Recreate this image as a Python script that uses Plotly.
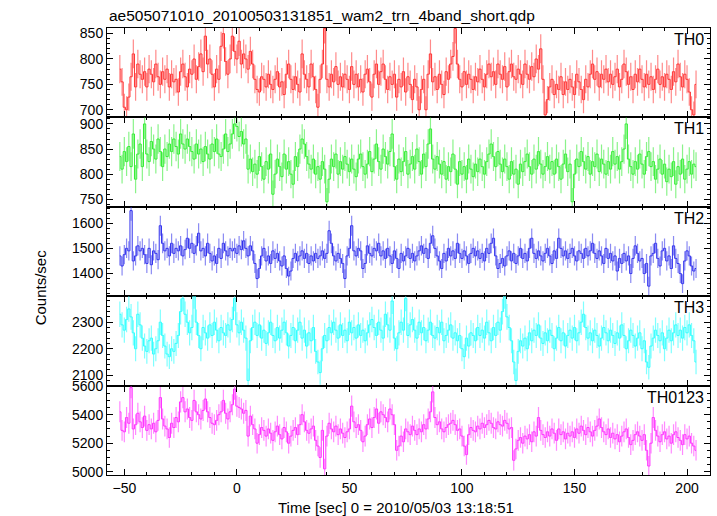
import numpy as np
import plotly.graph_objects as go
from plotly.subplots import make_subplots

time = list(range(-52, 205))

th0 = [
    780, 755, 705, 700, 725, 765, 810, 745, 790, 770,
    760, 775, 745, 780, 770, 755, 790, 765, 750, 775,
    760, 780, 745, 770, 755, 760, 735, 775, 790, 765,
    745, 780, 770, 800, 760, 785, 810, 775, 845, 790,
    800, 770, 745, 780, 760, 825, 850, 795, 770, 800,
    845, 815, 800, 835, 790, 810, 800, 780, 815, 790,
    760, 740, 735, 765, 760, 745, 770, 750, 740, 760,
    775, 745, 755, 730, 770, 790, 760, 740, 765, 750,
    735, 810, 770, 760, 745, 790, 765, 740, 705, 760,
    790, 860, 760, 745, 770, 755, 785, 750, 765, 745,
    770, 760, 740, 785, 750, 770, 745, 760, 735, 770,
    780, 755, 725, 770, 790, 750, 775, 790, 760, 740,
    765, 750, 770, 725, 760, 745, 775, 735, 765, 750,
    720, 760, 745, 700, 740, 760, 700, 770, 810, 755,
    765, 740, 770, 750, 730, 775, 760, 790, 805, 860,
    790, 760, 745, 775, 750, 770, 760, 740, 765, 755,
    780, 760, 745, 770, 790, 765, 775, 750, 790, 770,
    760, 785, 745, 775, 790, 765, 760, 780, 770, 750,
    790, 770, 760, 785, 765, 800, 780, 820, 760, 690,
    720, 745, 760, 730, 750, 740, 765, 730, 755, 740,
    760, 745, 730, 770, 755, 740, 720, 760, 745, 770,
    790, 760, 775, 745, 770, 760, 780, 755, 770, 750,
    765, 780, 745, 760, 790, 775, 750, 765, 740, 770,
    755, 780, 760, 745, 770, 750, 765, 740, 760, 780,
    750, 765, 745, 770, 760, 740, 775, 755, 790, 765,
    745, 770, 760, 735, 700, 690, 750,
]

th1 = [
    835, 810, 845, 825, 855, 815, 880, 790, 840, 860,
    815, 900, 840, 825, 865, 850, 830, 870, 845, 815,
    850, 835, 860, 845, 870, 855, 840, 880, 860, 850,
    870, 855, 845, 830, 860, 840, 850, 825, 855, 840,
    830, 860, 845, 870, 840, 835, 850, 880, 845, 860,
    880, 900, 895, 875, 885, 860, 870, 810, 830, 805,
    820, 800, 835, 815, 790, 825, 810, 840, 760, 800,
    830, 815, 795, 840, 810, 825, 800, 780, 835, 815,
    850, 870, 860, 835, 820, 810, 830, 800, 815, 790,
    825, 810, 745, 790, 830, 815, 840, 800, 825, 810,
    835, 820, 805, 830, 810, 795, 830, 840, 815, 800,
    820, 845, 805, 830, 860, 825, 810, 850, 835, 820,
    845, 880, 815, 790, 830, 805, 825, 845, 800, 820,
    835, 810, 850, 825, 800, 840, 815, 860, 890, 830,
    810, 835, 820, 800, 825, 790, 815, 805, 840, 810,
    780, 825, 800, 815, 790, 830, 810, 795, 820, 805,
    830, 815, 800, 825, 840, 860, 835, 815, 845, 820,
    805, 830, 815, 790, 825, 800, 810, 780, 820, 805,
    825, 840, 815, 800, 830, 810, 845, 820, 800, 815,
    835, 810, 825, 800, 830, 815, 790, 820, 840, 805,
    820, 745, 800, 830, 815, 845, 825, 810, 835, 800,
    825, 815, 840, 805, 830, 820, 800, 825, 810, 845,
    820, 835, 810, 825, 850, 900, 830, 815, 800, 825,
    810, 840, 820, 800, 835, 845, 815, 825, 790, 810,
    830, 800, 820, 785, 810, 795, 825, 780, 815, 800,
    830, 790, 810, 825, 800, 820, 815,
]

th2 = [
    1470, 1430, 1475, 1500, 1490, 1650, 1450, 1470, 1510, 1490,
    1500, 1475, 1440, 1500, 1435, 1490, 1480, 1455, 1590, 1520,
    1490, 1500, 1470, 1520, 1480, 1500, 1490, 1510, 1470, 1495,
    1540, 1500, 1520, 1480, 1510, 1560, 1490, 1500, 1470, 1520,
    1480, 1450, 1470, 1440, 1500, 1460, 1520, 1490, 1470, 1500,
    1490, 1500, 1480, 1510, 1495, 1530, 1500, 1470, 1510, 1490,
    1440, 1380, 1420, 1470, 1500, 1450, 1470, 1440, 1490, 1460,
    1480, 1450, 1430, 1470, 1420, 1390, 1410, 1460, 1480, 1450,
    1470, 1490, 1460, 1480, 1440, 1470, 1450, 1480, 1460, 1470,
    1490, 1460, 1480, 1570, 1520, 1470, 1450, 1480, 1460, 1440,
    1380, 1470, 1500, 1590, 1490, 1470, 1500, 1490, 1420, 1440,
    1510, 1480, 1470, 1500, 1490, 1520, 1470, 1490, 1460, 1500,
    1470, 1440, 1490, 1460, 1420, 1480, 1450, 1470, 1500, 1460,
    1480, 1450, 1470, 1490, 1510, 1480, 1500, 1460, 1520, 1550,
    1500, 1470, 1450, 1420, 1480, 1450, 1500, 1470, 1490, 1460,
    1520, 1480, 1460, 1490, 1470, 1440, 1480, 1500, 1470, 1490,
    1460, 1480, 1450, 1500, 1480, 1520, 1540, 1470, 1420, 1440,
    1460, 1430, 1470, 1490, 1450, 1480, 1440, 1470, 1500, 1460,
    1480, 1450, 1500, 1540, 1480, 1460, 1490, 1470, 1450, 1480,
    1500, 1470, 1440, 1490, 1460, 1540, 1500, 1470, 1490, 1460,
    1480, 1500, 1470, 1450, 1490, 1480, 1460, 1500, 1470, 1490,
    1520, 1480, 1460, 1490, 1470, 1440, 1500, 1460, 1480, 1450,
    1470, 1410, 1460, 1440, 1480, 1450, 1470, 1400, 1460, 1510,
    1480, 1450, 1460, 1400, 1440, 1350, 1470, 1480, 1520, 1460,
    1430, 1490, 1500, 1450, 1470, 1420, 1510, 1460, 1440, 1400,
    1360, 1450, 1490, 1470, 1430, 1410, 1420,
]

th3 = [
    2330, 2290, 2270, 2310, 2350, 2320, 2260, 2200, 2330, 2290,
    2240, 2210, 2190, 2230, 2240, 2180, 2200, 2230, 2300, 2250,
    2210, 2180, 2170, 2200, 2190, 2220, 2250, 2340, 2390, 2330,
    2300, 2260, 2280, 2400, 2300, 2250, 2200, 2280, 2260, 2240,
    2290, 2250, 2300, 2270, 2230, 2280, 2260, 2250, 2290, 2270,
    2310, 2390, 2290, 2260, 2300, 2270, 2240, 2080, 2230, 2280,
    2300, 2250, 2290, 2240, 2270, 2220, 2260, 2300, 2250, 2230,
    2280, 2240, 2270, 2300, 2260, 2210, 2250, 2280, 2230, 2270,
    2300, 2240, 2270, 2210, 2260, 2230, 2280, 2190, 2150, 2110,
    2200, 2250, 2230, 2280, 2260, 2300, 2270, 2240, 2290, 2250,
    2270, 2230, 2300, 2260, 2280, 2240, 2290, 2250, 2270, 2230,
    2260, 2290, 2310, 2280, 2250, 2300, 2270, 2240, 2330, 2290,
    2270, 2380, 2240, 2200, 2260, 2300, 2270, 2390, 2250, 2290,
    2310, 2270, 2240, 2300, 2260, 2280, 2230, 2270, 2300, 2250,
    2240, 2280, 2260, 2300, 2230, 2250, 2270, 2290, 2240, 2260,
    2230, 2250, 2200, 2170, 2240, 2210, 2260, 2250, 2230, 2280,
    2250, 2270, 2240, 2300, 2260, 2230, 2280, 2250, 2300, 2270,
    2340, 2400, 2320, 2280, 2230, 2150, 2080, 2190, 2230, 2210,
    2240, 2200, 2260, 2230, 2270, 2250, 2290, 2240, 2220, 2260,
    2230, 2270, 2250, 2200, 2240, 2280, 2230, 2260, 2210, 2250,
    2270, 2240, 2280, 2230, 2260, 2300, 2330, 2280, 2240, 2260,
    2230, 2270, 2250, 2210, 2240, 2280, 2260, 2230, 2270, 2250,
    2220, 2260, 2240, 2290, 2250, 2200, 2230, 2270, 2250, 2210,
    2240, 2260, 2200, 2230, 2150, 2130, 2210, 2240, 2270, 2250,
    2230, 2260, 2200, 2240, 2270, 2230, 2260, 2290, 2250, 2270,
    2240, 2280, 2260, 2290, 2250, 2230, 2150,
]

th0123 = [
    5420, 5290, 5280, 5380, 5340, 5590, 5300, 5330, 5410, 5350,
    5310, 5390, 5290, 5330, 5300, 5340, 5280, 5360, 5520, 5370,
    5320, 5300, 5240, 5340, 5310, 5380, 5350, 5490, 5520, 5420,
    5440, 5380, 5360, 5500, 5420, 5400, 5370, 5430, 5510, 5420,
    5380, 5340, 5330, 5360, 5400, 5420, 5500, 5410, 5370, 5420,
    5470, 5580, 5460, 5450, 5440, 5410, 5430, 5250, 5390, 5330,
    5300, 5200, 5260, 5310, 5290, 5250, 5300, 5270, 5220, 5280,
    5320, 5260, 5230, 5310, 5280, 5200, 5250, 5290, 5310, 5260,
    5330, 5400, 5350, 5290, 5270, 5300, 5320, 5220, 5180, 5100,
    5290, 5020, 5250, 5340, 5300, 5280, 5320, 5260, 5300, 5270,
    5240, 5280, 5300, 5460, 5350, 5310, 5330, 5290, 5210, 5250,
    5330, 5370, 5310, 5380, 5440, 5340, 5420, 5400, 5380, 5350,
    5440, 5400, 5330, 5150, 5180, 5250, 5210, 5300, 5280, 5260,
    5320, 5290, 5260, 5300, 5280, 5330, 5300, 5370, 5420, 5560,
    5380, 5330, 5350, 5300, 5280, 5310, 5330, 5340, 5360, 5330,
    5290, 5300, 5250, 5180, 5120, 5260, 5310, 5290, 5280, 5320,
    5300, 5340, 5310, 5330, 5360, 5340, 5310, 5300, 5350, 5330,
    5320, 5360, 5340, 5300, 5310, 5080, 5160, 5220, 5240, 5200,
    5250, 5230, 5260, 5210, 5280, 5250, 5380, 5290, 5260, 5240,
    5280, 5250, 5300, 5270, 5220, 5300, 5260, 5280, 5230, 5270,
    5250, 5280, 5240, 5300, 5270, 5320, 5290, 5260, 5310, 5280,
    5250, 5290, 5320, 5370, 5310, 5280, 5260, 5300, 5240, 5270,
    5230, 5260, 5210, 5250, 5280, 5300, 5240, 5190, 5220, 5260,
    5280, 5250, 5220, 5260, 5150, 5040, 5200, 5380, 5290, 5250,
    5210, 5260, 5280, 5230, 5250, 5200, 5260, 5280, 5240, 5220,
    5190, 5260, 5230, 5250, 5200, 5180, 5150,
]

labels = ["TH0", "TH1", "TH2", "TH3", "TH0123"]
values = [th0, th1, th2, th3, th0123]
line_colors = ["#ff3030", "#30ee30", "#3030ee", "#30ffff", "#ff30ff"]
err_colors = ["rgba(255,60,60,0.6)", "rgba(60,235,60,0.6)", "rgba(60,60,235,0.6)",
              "rgba(60,255,255,0.65)", "rgba(255,60,255,0.6)"]
y_ranges = [[685, 861], [735, 913], [1310, 1665], [2061, 2398], [4977, 5604]]
y_dticks = [50, 50, 100, 100, 200]
y_minor = [10, 10, 20, 20, 50]

FONT = "Liberation Sans, Arial, Helvetica, sans-serif"

fig = make_subplots(rows=5, cols=1, shared_xaxes=True, vertical_spacing=0)

for i, (lab, vals) in enumerate(zip(labels, values)):
    arr = np.array(vals, dtype=float)
    fig.add_trace(
        go.Scatter(
            x=time, y=vals, mode="lines",
            line=dict(color=line_colors[i], width=1, shape="hvh"),
            error_y=dict(type="data", array=np.sqrt(arr), color=err_colors[i],
                         thickness=1.2, width=0),
            showlegend=False, hoverinfo="skip",
        ),
        row=i + 1, col=1,
    )
    fig.update_yaxes(
        range=y_ranges[i], dtick=y_dticks[i], tick0=0,
        ticks="inside", ticklen=6, tickcolor="black", tickwidth=1,
        showline=True, linecolor="black", linewidth=1, mirror="allticks",
        showgrid=False, zeroline=False,
        tickfont=dict(family=FONT, size=14, color="black"),
        minor=dict(dtick=y_minor[i], ticks="inside", ticklen=3, tickcolor="black", showgrid=False),
        row=i + 1, col=1,
    )

fig.update_xaxes(
    range=[-57.7, 210.2], dtick=50, tick0=0,
    ticks="inside", ticklen=6, tickcolor="black", tickwidth=1,
    showline=True, linecolor="black", linewidth=1, mirror="allticks",
    showgrid=False, zeroline=False,
    tickfont=dict(family=FONT, size=14, color="black"),
    minor=dict(dtick=10, ticks="inside", ticklen=3, tickcolor="black", showgrid=False),
)

annotations = []
n = 5
for i, lab in enumerate(labels):
    top = 1 - i / n
    annotations.append(dict(
        text=lab, xref="paper", yref="paper", x=1, y=top,
        xanchor="right", yanchor="top", xshift=-4, yshift=-1,
        showarrow=False, font=dict(family=FONT, size=16, color="black"),
    ))

annotations.append(dict(
    text="ae505071010_20100503131851_wam2_trn_4band_short.qdp",
    xref="paper", yref="paper", x=0, y=1, xanchor="left", yanchor="bottom",
    yshift=2, showarrow=False, font=dict(family=FONT, size=15.5, color="black"),
))
annotations.append(dict(
    text="Time [sec] 0 = 2010/05/03 13:18:51",
    xref="paper", yref="paper", x=0.48, y=0, xanchor="center", yanchor="top",
    yshift=-22, showarrow=False, font=dict(family=FONT, size=15, color="black"),
))
annotations.append(dict(
    text="Counts/sec", xref="paper", yref="paper", x=-0.111, y=0.42,
    xanchor="center", yanchor="middle", textangle=-90,
    showarrow=False, font=dict(family=FONT, size=15, color="black"),
))

fig.update_layout(
    width=717, height=516,
    margin=dict(l=107, r=7, t=28, b=41),
    paper_bgcolor="white", plot_bgcolor="white",
    annotations=annotations,
)

fig.write_html(
    "out.html",
    config={"displayModeBar": False},
    post_script="document.body.style.margin='0';document.body.style.overflow='hidden';",
)
